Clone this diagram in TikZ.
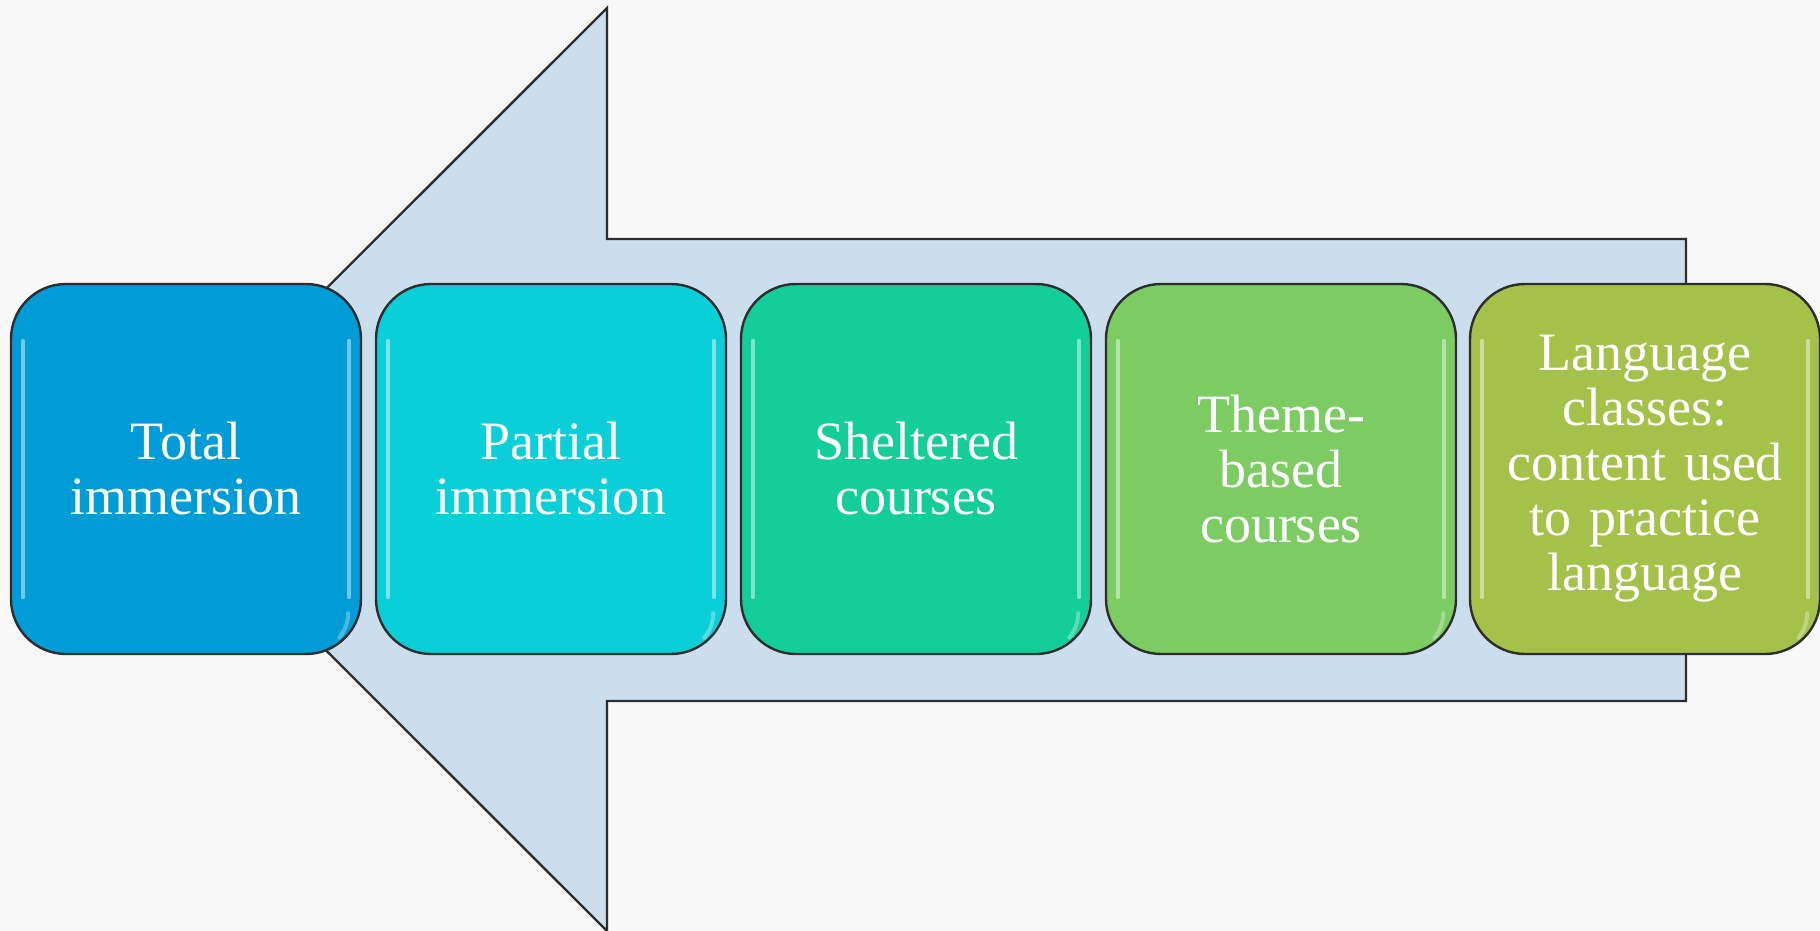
\documentclass[tikz,border=0pt]{standalone}
\usepackage{fontspec}
\setmainfont{Liberation Serif}
\usetikzlibrary{calc}
\definecolor{bgcol}{RGB}{248,248,248}
\definecolor{arrowfill}{RGB}{203,222,238}
\definecolor{edgecol}{RGB}{45,45,45}
\definecolor{cA}{RGB}{0,156,216}
\definecolor{cB}{RGB}{11,207,216}
\definecolor{cC}{RGB}{19,206,152}
\definecolor{cD}{RGB}{124,203,99}
\definecolor{cE}{RGB}{164,194,74}
\tikzset{
  stepbox/.style={draw=edgecol, line width=2.4pt, rounded corners=55pt,
    minimum width=350pt, minimum height=370pt, inner sep=0pt,
    text=white, align=center, text width=340pt,
    font=\fontsize{54}{55}\selectfont},
  bigarrow/.style={draw=edgecol, line width=2.4pt, fill=arrowfill, line join=miter},
  glint/.style={white, opacity=0.45, line width=4pt, line cap=round}
}
\begin{document}
\begin{tikzpicture}[x=1pt,y=-1pt]
\useasboundingbox (0,0) rectangle (1820,931);
\fill[bgcol] (0,0) rectangle (1820,931);
\draw[bigarrow] (145,469.5) -- (607,8) -- (607,239) -- (1686,239) -- (1686,701) -- (607,701) -- (607,931) -- cycle;
\node[stepbox, fill=cA] (b1) at (186,469) {Total\\immersion};
\node[stepbox, fill=cB] (b2) at (551,469) {Partial\\immersion};
\node[stepbox, fill=cC] (b3) at (916,469) {Sheltered\\courses};
\node[stepbox, fill=cD] (b4) at (1281,469) {Theme-\\based\\courses};
\node[stepbox, fill=cE] (b5) at (1645,469) {Language\\classes:\\content used\\to practice\\language};
\foreach \b in {b1,b2,b3,b4,b5}{
  \draw[glint] ($(\b.north west)+(13,58)$) -- ($(\b.south west)+(13,-58)$);
  \draw[glint] ($(\b.north east)+(-13,58)$) -- ($(\b.south east)+(-13,-58)$);
  \draw[glint, opacity=0.3] ($(\b.south east)+(-14,-42)$) arc[start angle=0, end angle=40, radius=38];
}
\end{tikzpicture}
\end{document}
